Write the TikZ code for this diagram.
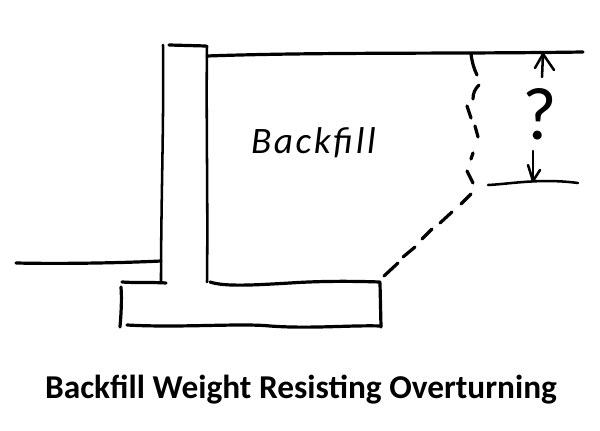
\documentclass[tikz,border=0pt]{standalone}
\usepackage{fontspec}
\setmainfont{Carlito}
\tikzset{ink/.style={line width=2.4pt,line cap=round,line join=round,black},thin ink/.style={ink,line width=1.9pt}}
\begin{document}
\begin{tikzpicture}[x=1pt,y=-1pt]
\useasboundingbox (0,0) rectangle (450,323.25);
\fill[white] (0,0) rectangle (450,323.25);
\begin{scope}[x=0.75pt,y=-0.75pt]
% wall
\draw[ink] (169,45) -- (206,46);
\draw[thin ink] (163,45) .. controls (164,120) and (161,200) .. (161,283);
\draw[thin ink] (207,46) .. controls (206,120) and (208,200) .. (207,282);
% footing
\draw[ink] (122,282) .. controls (135,283) and (150,282) .. (166,283);
\draw[ink] (121,287) .. controls (122,300) and (121,315) .. (120,327);
\draw[ink] (127,325) .. controls (180,328) and (240,323) .. (270,326) .. controls (310,329) and (350,325) .. (381,326);
\draw[ink] (380,283) -- (381,327);
\draw[ink] (210,282) .. controls (225,287) and (255,285) .. (290,283) .. controls (320,281) and (350,281) .. (380,282);
% grades
\draw[ink] (16,263) .. controls (60,264) and (120,263) .. (161,261);
\draw[ink] (207,56) .. controls (320,52) and (450,54) .. (583,52);
\draw[thin ink] (488,185) .. controls (510,184) and (540,178) .. (578,183);
% dashed lines
\draw[ink] (384,276) -- (398,263);
\draw[ink] (403,257) -- (415,247);
\draw[ink] (422,239) -- (432,229);
\draw[ink] (440,223) -- (452,212);
\draw[ink] (461,204) -- (471,194);
\draw[ink] (471,54) .. controls (472,62) and (474,69) .. (477,75);
\draw[ink] (479,85) .. controls (475,89) and (473,93) .. (473,99);
\draw[ink] (467,106) -- (471,118);
\draw[ink] (475,126) -- (478,137);
\draw[ink] (473,153) -- (471,159);
\draw[ink] (467,171) -- (473,183);
% arrows
\draw[thin ink] (543,54) -- (542,77);
\draw[thin ink] (535,68) -- (543,54) -- (554,70);
\draw[thin ink] (533,151) -- (533,181);
\draw[thin ink] (528,165) -- (533,181) -- (540,170);
\end{scope}
\node (q) at (405,86) {\fontsize{56}{56}\selectfont ?};
\node (bf) at (235,107) {\fontsize{28}{28}\selectfont\addfontfeature{LetterSpace=7}\itshape Backfill};
\node (t) at (225.75,292.5) {\fontsize{25}{30}\selectfont\bfseries Backfill Weight Resisting Overturning};
\end{tikzpicture}
\end{document}
